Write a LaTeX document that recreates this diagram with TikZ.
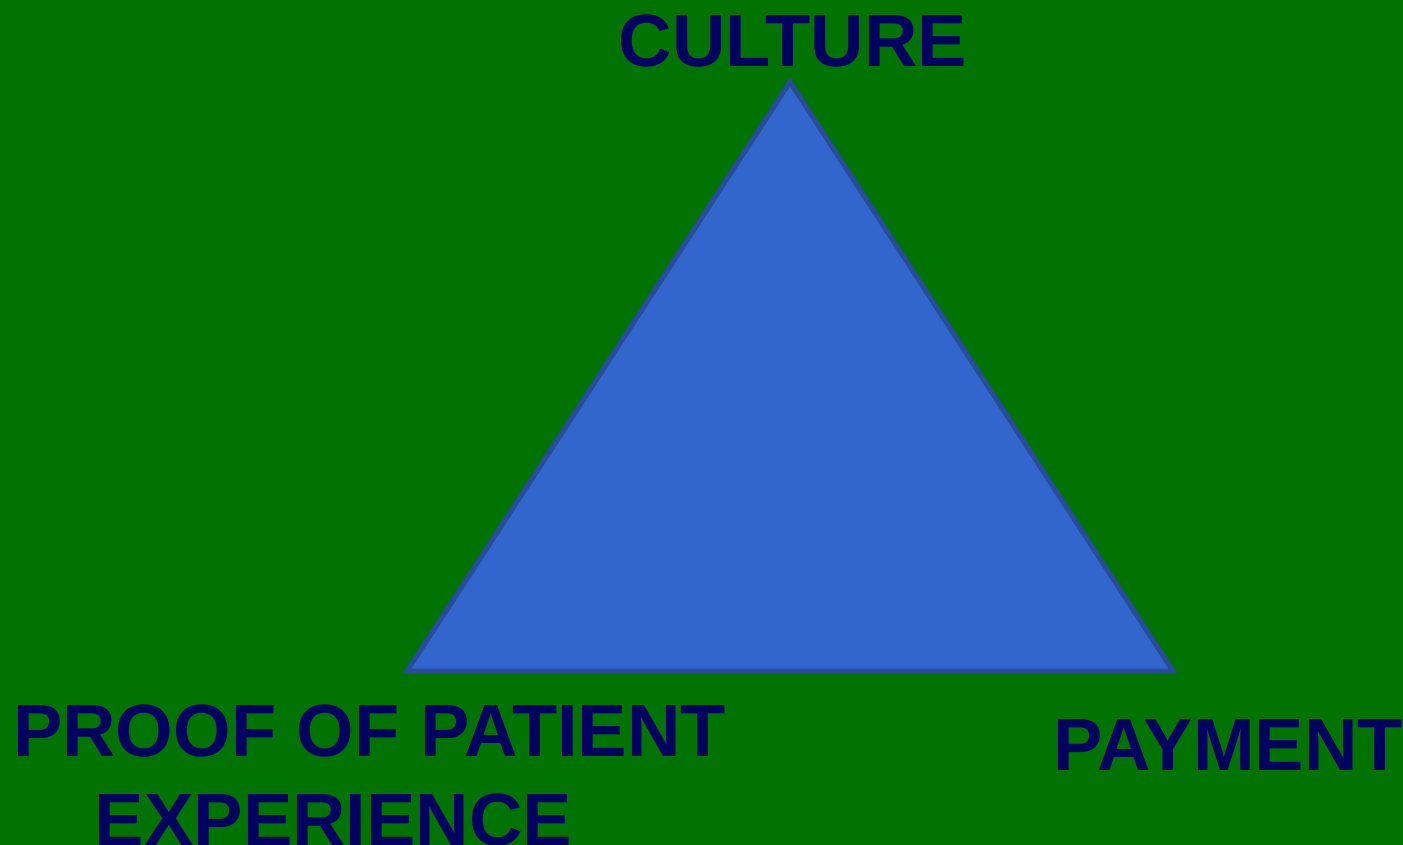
\documentclass[tikz,border=0pt]{standalone}
\usepackage{fontspec}
\setmainfont{Liberation Sans}
\definecolor{bggreen}{RGB}{0,115,0}
\definecolor{trifill}{RGB}{51,102,204}
\definecolor{triedge}{RGB}{40,76,156}
\definecolor{navytext}{RGB}{0,0,96}
\begin{document}
\begin{tikzpicture}[x=1pt,y=-1pt,
  lbl/.style={inner sep=0pt,anchor=base,text=navytext,font=\fontsize{74}{89}\selectfont\bfseries}]
\fill[bggreen] (0,0) rectangle (1403,845);
\useasboundingbox (0,0) rectangle (1403,845);
\coordinate (top) at (790,82);
\coordinate (bl) at (407,671);
\coordinate (br) at (1173,671);
\filldraw[fill=trifill,draw=triedge,line width=5pt,line join=miter] (top) -- (br) -- (bl) -- cycle;
\node[lbl] (culture) at (793,67) {CULTURE};
\node[lbl] (proof) at (369.5,756) {PROOF OF PATIENT};
\node[lbl] (exp) at (333.5,845) {EXPERIENCE};
\node[lbl] (pay) at (1228,770) {PAYMENT};
\end{tikzpicture}
\end{document}
